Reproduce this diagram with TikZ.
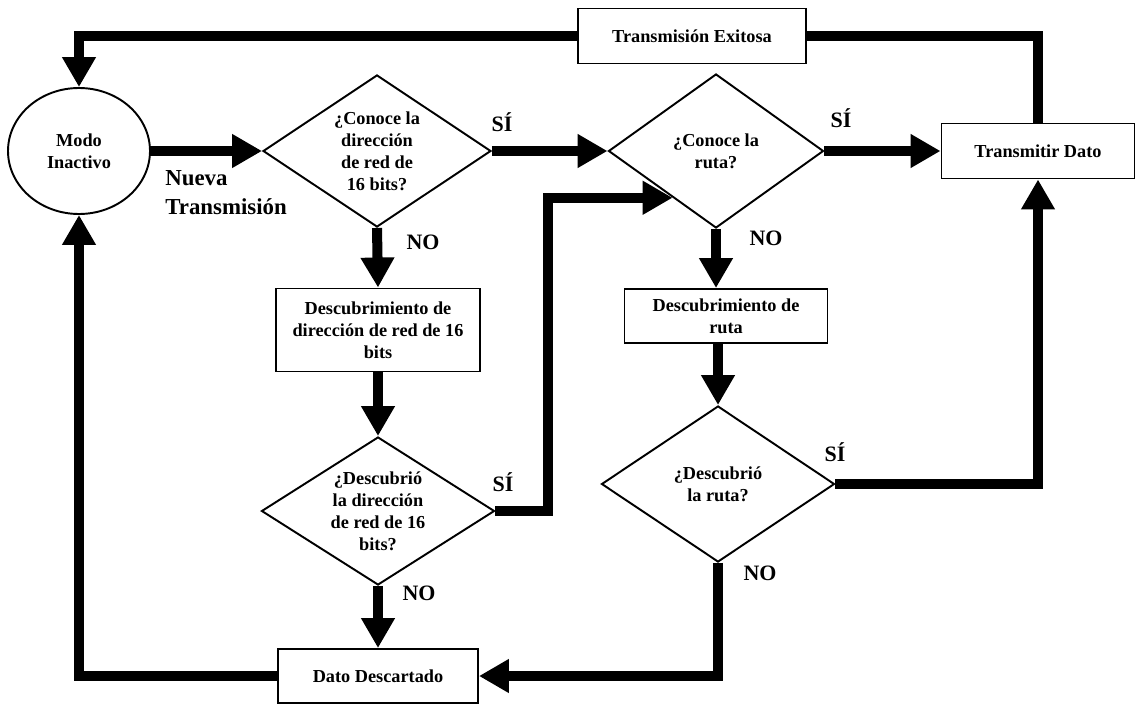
\documentclass[tikz,border=0pt]{standalone}
\usepackage{fontspec}
\setmainfont{Liberation Serif}
\usepackage{tikz}
\usetikzlibrary{shapes, arrows.meta, positioning, calc}

\tikzset{
  caja/.style={draw, line width=1.1pt, rectangle, align=center, inner sep=2pt,
    font=\fontsize{10.4}{12.5}\selectfont\bfseries},
  decision/.style={draw, line width=1.1pt, diamond, aspect=1.5, inner sep=0pt, align=center,
    font=\fontsize{10.4}{12.5}\selectfont\bfseries},
  flujo/.style={line width=5.7pt, -{Triangle[width=0.64cm,length=0.6cm]}},
  linea/.style={line width=5.7pt},
  etiqueta/.style={font=\fontsize{12.5}{15}\selectfont\bfseries},
}

\begin{document}
\begin{tikzpicture}[x=0.2mm, y=-0.2mm]
        \useasboundingbox (0,0) rectangle (1135,704);
        % Estados
        \node[draw, line width=1.1pt, ellipse, minimum width=2.84cm, minimum height=2.52cm, align=center,
          font=\fontsize{10.4}{12.5}\selectfont\bfseries] (modo) at (79,151) {Modo\\Inactivo};
        \node[caja, minimum width=4.56cm, minimum height=1.1cm] (exito) at (692,36) {Transmisión Exitosa};
        \node[caja, minimum width=3.86cm, minimum height=1.1cm] (tx) at (1038,151) {Transmitir Dato};
        \node[caja, minimum width=4.08cm, minimum height=1.66cm] (desc1) at (378,330) {Descubrimiento de\\dirección de red de 16\\bits};
        \node[caja, minimum width=4.06cm, minimum height=1.08cm] (desc2) at (726,316) {Descubrimiento de\\ruta};
        \node[caja, minimum width=4.0cm, minimum height=1.08cm] (dato) at (378,676) {Dato Descartado};
        % Decisiones
        \node[decision, minimum width=4.56cm, minimum height=3.04cm] (d1) at (377,151) {¿Conoce la\\dirección\\de red de\\16 bits?};
        \node[decision, minimum width=4.3cm, minimum height=3.08cm] (d2) at (716,151) {¿Conoce la\\ruta?};
        \node[decision, minimum width=4.66cm, minimum height=2.96cm] (d3) at (378,511) {¿Descubrió\\la dirección\\de red de 16\\bits?};
        \node[decision, minimum width=4.66cm, minimum height=3.12cm] (d4) at (718,484) {¿Descubrió\\la ruta?};
        \coordinate (d2borde) at ($(d2.west)!0.6!(d2.south)$);
        % Flechas
        \draw[flujo] (modo.east) -- (d1.west);
        \draw[flujo] (d1.east) -- (d2.west);
        \draw[flujo] (d2.east) -- (tx.west);
        \draw[flujo] (d1.south) -- (desc1.north);
        \draw[flujo] (desc1.south) -- (d3.north);
        \draw[flujo] (d3.south) -- (dato.north);
        \draw[flujo] (d3.east) -- ++(53,0) |- (d2borde);
        \draw[flujo] (d2.south) -- (d2.south |- desc2.north);
        \draw[flujo] (d4.north |- desc2.south) -- (d4.north);
        \draw[flujo] (d4.east) -| (tx.south);
        \draw[flujo] (d4.south) |- (dato.east);
        \draw[flujo] (dato.west) -| (modo.south);
        \draw[flujo] (exito.west) -| (modo.north);
        \draw[linea] (tx.north) |- (exito.east);
        % Etiquetas
        \node[align=left, anchor=west, inner sep=0pt, font=\fontsize{13}{16.4}\selectfont\bfseries] (nueva) at (165,193) {Nueva\\Transmisión};
        \node[etiqueta] (si1) at (502,122) {SÍ};
        \node[etiqueta] (si2) at (841,118) {SÍ};
        \node[etiqueta] (si3) at (503,482) {SÍ};
        \node[etiqueta] (si4) at (835,452) {SÍ};
        \node[etiqueta] (no1) at (423,242) {NO};
        \node[etiqueta] (no2) at (766,238) {NO};
        \node[etiqueta] (no3) at (419,593) {NO};
        \node[etiqueta] (no4) at (760,573) {NO};
    \end{tikzpicture}
\end{document}
